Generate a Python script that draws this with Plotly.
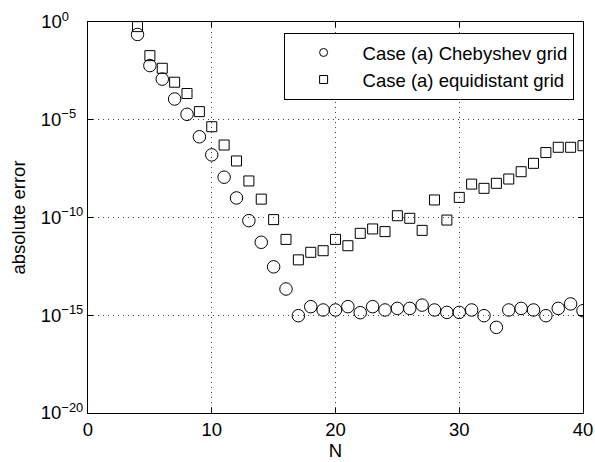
import plotly.graph_objects as go

N = list(range(4, 41))

cheb_err = [2.3e-1, 5.9e-3, 1.2e-3, 1.15e-4, 1.9e-5, 1.35e-6, 1.6e-7, 1.15e-8, 1.0e-9, 6.9e-11,
            5.4e-12, 3.0e-13, 2.2e-14, 9.5e-16, 2.75e-15, 1.86e-15, 1.86e-15, 2.75e-15, 1.35e-15, 2.75e-15,
            1.86e-15, 2.24e-15, 2.24e-15, 3.3e-15, 1.86e-15, 1.4e-15, 1.4e-15, 1.86e-15, 9.5e-16, 2.4e-16,
            1.86e-15, 2.24e-15, 1.86e-15, 9.5e-16, 2.24e-15, 3.8e-15, 1.7e-15]

equi_err = [5.8e-1, 1.9e-2, 4.3e-3, 8.3e-4, 2.2e-4, 2.6e-5, 4.4e-6, 5.1e-7, 7.8e-8, 7.4e-9,
            8.7e-10, 7.8e-11, 7.6e-12, 6.8e-13, 1.66e-12, 2.0e-12, 7.6e-12, 3.6e-12, 1.55e-11, 2.6e-11,
            1.9e-11, 1.23e-10, 9.1e-11, 2.2e-11, 7.9e-10, 7.4e-11, 1.07e-9, 5.1e-9, 3.1e-9, 5.6e-9,
            9.3e-9, 2.2e-8, 5.9e-8, 2.1e-7, 3.9e-7, 3.9e-7, 4.7e-7]

series_names = ["Case (a) Chebyshev grid", "Case (a) equidistant grid"]

y_tickvals = [1e-20, 1e-15, 1e-10, 1e-5, 1e0]
y_ticktext = ["10<sup>\u221220</sup>", "10<sup>\u221215</sup>", "10<sup>\u221210</sup>",
              "10<sup>\u22125&#160;&#160;</sup>", "10<sup>0&#160;&#160;&#160;&#160;</sup>"]
x_tickvals = [0, 10, 20, 30, 40]

FONT = "Liberation Sans, Arial, Helvetica, sans-serif"
FS = 18.5

fig = go.Figure()

fig.add_trace(go.Scatter(
    x=N, y=cheb_err, mode="markers", showlegend=False, hoverinfo="skip",
    marker=dict(symbol="circle-open", size=12.5, color="black", line=dict(width=1, color="black")),
))
fig.add_trace(go.Scatter(
    x=N, y=equi_err, mode="markers", showlegend=False, hoverinfo="skip",
    marker=dict(symbol="square-open", size=10, color="black", line=dict(width=1, color="#222")),
))
# legend entries (smaller symbols, as in reference)
fig.add_trace(go.Scatter(
    x=[None], y=[None], mode="markers", name=series_names[0],
    marker=dict(symbol="circle-open", size=8, color="black", line=dict(width=1, color="black")),
))
fig.add_trace(go.Scatter(
    x=[None], y=[None], mode="markers", name=series_names[1],
    marker=dict(symbol="square-open", size=8, color="black", line=dict(width=1, color="black")),
))

axis_common = dict(
    showline=True, linecolor="black", linewidth=1, mirror="allticks",
    ticks="inside", ticklen=5, tickcolor="black", tickwidth=1,
    showgrid=True, gridcolor="#444", gridwidth=1, griddash="1px,4px",
    zeroline=False, automargin=False,
    tickfont=dict(family=FONT, size=FS, color="black"),
)

fig.update_xaxes(
    range=[0, 40], tickvals=x_tickvals,
    title=dict(text="N", font=dict(family=FONT, size=FS, color="black"), standoff=2),
    **axis_common,
)
fig.update_yaxes(
    type="log", range=[-20, 0], tickvals=y_tickvals, ticktext=y_ticktext,
    title=dict(text="absolute error", font=dict(family=FONT, size=FS, color="black"), standoff=10),
    **axis_common,
)

fig.update_layout(
    template="none",
    width=595, height=462,
    margin=dict(l=87.5, r=11.5, t=22, b=49, pad=0),
    paper_bgcolor="white", plot_bgcolor="white",
    font=dict(family=FONT, size=FS, color="black"),
    showlegend=True,
    hovermode=False,
    legend=dict(
        x=0.981, xanchor="right", y=0.972, yanchor="top",
        bgcolor="white", bordercolor="black", borderwidth=1,
        font=dict(family=FONT, size=18.5, color="black"),
        itemwidth=68, tracegroupgap=0,
    ),
)

fig.write_html("out.html", config={"displayModeBar": False},
               post_script="document.body.style.margin='0';")
